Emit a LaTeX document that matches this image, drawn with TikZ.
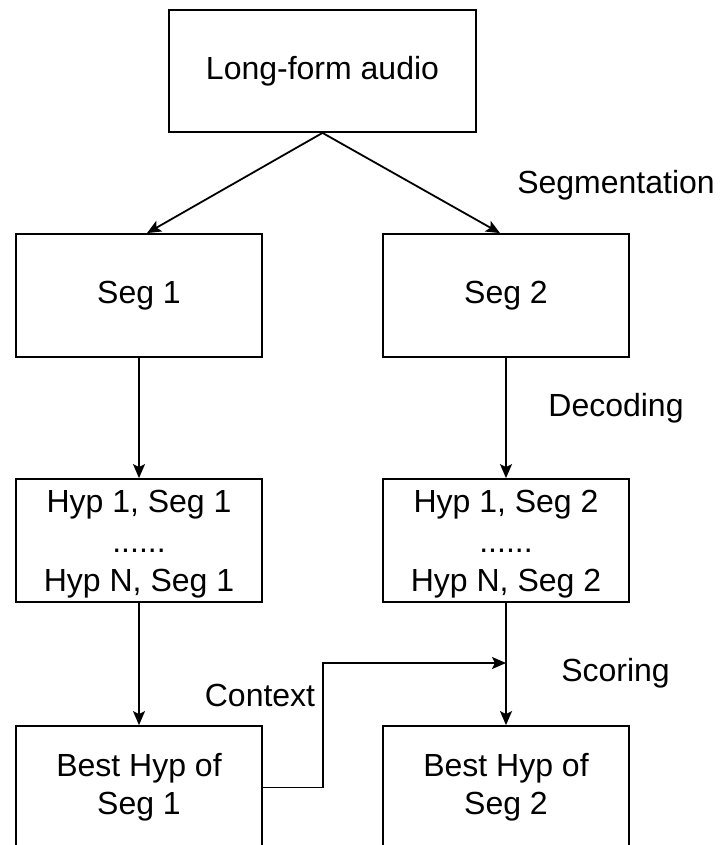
\documentclass[tikz,border=0pt]{standalone}
\usepackage{fontspec}
\setmainfont{Liberation Sans}
\usetikzlibrary{arrows.meta}
\begin{document}
\begin{tikzpicture}[x=1pt,y=-1pt,
  box/.style={draw,line width=1.8pt,rectangle,inner sep=0pt,align=center,
    font=\fontsize{32}{38}\selectfont,minimum width=246pt,minimum height=123pt},
  hyptext/.style={label={[inner sep=0pt,yshift=-4pt,align=center,
    font=\fontsize{32}{39.5}\selectfont]center:#1}},
  lbl/.style={inner sep=0pt,font=\fontsize{32}{38}\selectfont},
  arr/.style={line width=1.8pt,-{Stealth[length=14pt,width=12pt,inset=3pt]}}]
\useasboundingbox (0,0) rectangle (722,845);
\clip (0,0) rectangle (722,845);
\node[box,minimum width=307pt,minimum height=122pt] (top) at (322.5,71) {Long-form audio};
\node[box] (seg1) at (139,295.5) {Seg 1};
\node[box] (seg2) at (506,295.5) {Seg 2};
\node[box,hyptext={Hyp 1, Seg 1\\......\\Hyp N, Seg 1}] (hyp1) at (139,540.5) {};
\node[box,hyptext={Hyp 1, Seg 2\\......\\Hyp N, Seg 2}] (hyp2) at (506,540.5) {};
\node[box] (best1) at (139,787.5) {Best Hyp of\\Seg 1};
\node[box] (best2) at (506,787.5) {Best Hyp of\\Seg 2};
\node[lbl] (lseg) at (616,185) {Segmentation};
\node[lbl] (ldec) at (616,408) {Decoding};
\node[lbl] (lsco) at (615.5,673) {Scoring};
\node[lbl] (lctx) at (260,695) {Context};
\draw[arr] (top.south) -- ([xshift=8pt]seg1.north);
\draw[arr] (top.south) -- ([xshift=-6pt]seg2.north);
\draw[arr] (seg1) -- (hyp1);
\draw[arr] (seg2) -- (hyp2);
\draw[arr] (hyp1) -- (best1);
\draw[arr] (hyp2) -- (best2);
\coordinate (cj) at (hyp2.south |- 0,663);
\draw[arr] (best1.east) -- ++(60,0) |- (cj);
\end{tikzpicture}
\end{document}
